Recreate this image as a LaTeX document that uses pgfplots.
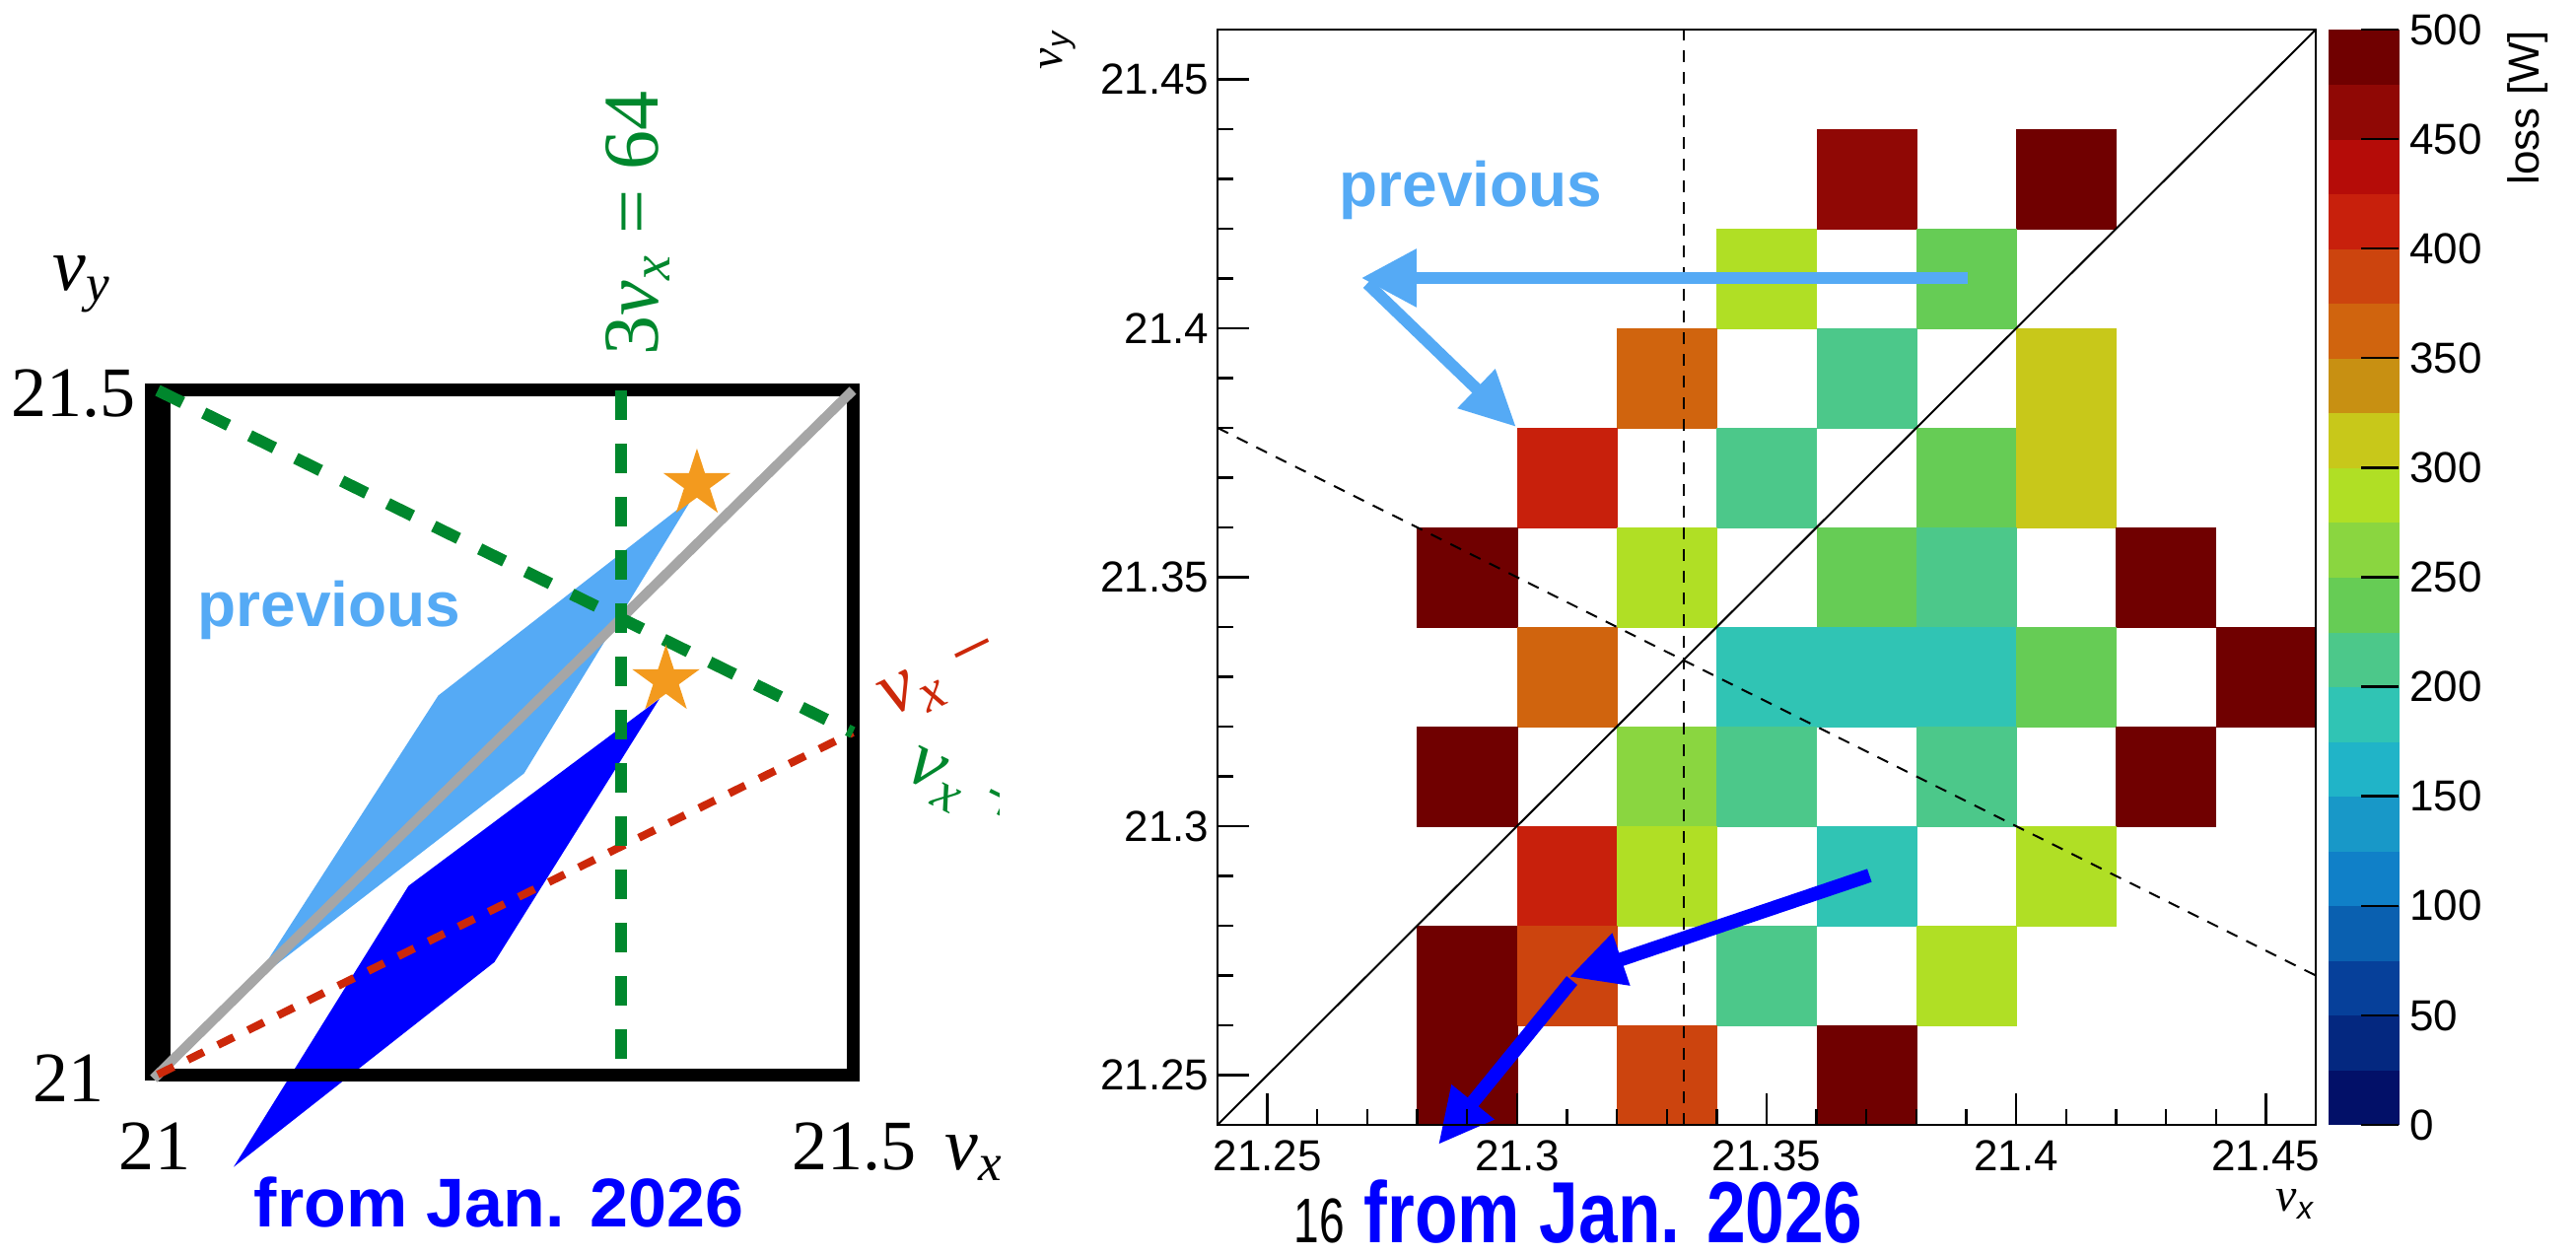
\documentclass[border=0pt]{standalone}
\usepackage{fontspec}
\setmainfont{Liberation Sans}
\newfontfamily\lser{Liberation Serif}
\newfontfamily\condsans{Liberation Sans}[FakeStretch=0.81]
\newfontfamily\thinsans{Liberation Sans}[FakeStretch=0.72]
\usepackage{pgfplots}
\pgfplotsset{compat=1.18}
\usetikzlibrary{arrows.meta}

\definecolor{lb}{RGB}{85,170,245}
\definecolor{dblue}{RGB}{0,0,255}
\definecolor{gc}{RGB}{0,135,45}
\definecolor{rc}{RGB}{204,40,10}
\definecolor{gr}{RGB}{166,166,166}
\definecolor{starc}{RGB}{243,154,30}

\pgfdeclareplotmark{fstar}{%
 \pgfpathmoveto{\pgfpointpolar{90}{\pgfplotmarksize}}%
 \pgfpathlineto{\pgfpointpolar{126}{0.382*\pgfplotmarksize}}%
 \pgfpathlineto{\pgfpointpolar{162}{\pgfplotmarksize}}%
 \pgfpathlineto{\pgfpointpolar{198}{0.382*\pgfplotmarksize}}%
 \pgfpathlineto{\pgfpointpolar{234}{\pgfplotmarksize}}%
 \pgfpathlineto{\pgfpointpolar{270}{0.382*\pgfplotmarksize}}%
 \pgfpathlineto{\pgfpointpolar{306}{\pgfplotmarksize}}%
 \pgfpathlineto{\pgfpointpolar{342}{0.382*\pgfplotmarksize}}%
 \pgfpathlineto{\pgfpointpolar{18}{\pgfplotmarksize}}%
 \pgfpathlineto{\pgfpointpolar{54}{0.382*\pgfplotmarksize}}%
 \pgfpathclose\pgfusepathqfill}

\newcommand\nuX{{\itshape ν}\textsubscript{\itshape x}}
\newcommand\nuY{{\itshape ν}\textsubscript{\itshape y}}

\begin{document}
\begin{tikzpicture}
\path[use as bounding box] (0,0) rectangle (653.25pt,318.5pt);

% ---------------- left schematic panel ----------------
\begin{axis}[at={(0pt,0pt)}, anchor=south west, scale only axis,
  width=253.25pt, height=318.5pt, hide axis,
  xmin=20.88652, xmax=21.60496, ymin=20.86744, ymax=21.78530, clip=true]
 \addplot[fill=lb, draw=none] coordinates {(21.3846,21.4214) (21.2018,21.2770) (21.0689,21.0675) (21.2635,21.2201)} --cycle;
 \addplot[fill=dblue, draw=none] coordinates {(21.3609,21.2746) (21.1804,21.1379) (21.0546,20.9325) (21.2422,21.0822)} --cycle;
 \addplot[black, line width=3.25pt, line join=miter] coordinates {(21,21.5) (21.5,21.5) (21.5,21) (21,21)};
 \addplot[black, line width=6.5pt] coordinates {(21,20.99532) (21,21.50468)};
 \addplot[gr, line width=2.5pt] coordinates {(20.997,20.997) (21.5,21.5)};
 \addplot[rc, line width=2pt, dash pattern=on 4.5pt off 4pt] coordinates {(21,21) (21.5,21.25)};
 \addplot[gc, line width=3pt, dash pattern=on 7pt off 6pt] coordinates {(21,21.5) (21.5,21.25)};
 \addplot[gc, line width=3pt, dash pattern=on 7.5pt off 6pt] coordinates {(21.33333,21.5) (21.33333,21)};
 \addplot[only marks, mark=fstar, mark size=9pt, color=starc] coordinates {(21.3879,21.4316) (21.3656,21.2882)};
 % labels of the two resonance lines, cut off by the panel edge as in the original
 \node[rotate=26, anchor=base west, inner sep=0pt, text=rc, font=\lser\fontsize{20}{20}\selectfont] at (axis cs:21.52695,21.26081) {\nuX\ −};
 \node[rotate=-26, anchor=base west, inner sep=0pt, text=gc, font=\lser\fontsize{20}{20}\selectfont] at (axis cs:21.53546,21.21758) {\nuX\ +};
\end{axis}

% ---------------- right loss map ----------------
\begin{axis}[at={(308.75pt,33.25pt)}, anchor=south west, scale only axis,
  width=278.5pt, height=277.75pt,
  xmin=21.24, xmax=21.46, ymin=21.24, ymax=21.46,
  xtick={21.25,21.3,21.35,21.4,21.45}, ytick={21.25,21.3,21.35,21.4,21.45},
  minor tick num=4, tick align=inside, tick pos=left,
  major tick length=8pt, minor tick length=4pt,
  axis line style={line width=0.6pt},
  every tick/.style={black, line width=0.6pt},
  ticklabel style={font=\fontsize{11}{11}\selectfont},
  /pgf/number format/assume math mode=true,
  xticklabel style={inner sep=0pt, yshift=-3.75pt, /pgf/number format/fixed, /pgf/number format/precision=2},
  yticklabel style={inner sep=0pt, xshift=-2pt, /pgf/number format/fixed, /pgf/number format/precision=2},
  colormap={loss}{rgb255=(2,16,104) rgb255=(4,40,128) rgb255=(6,64,154) rgb255=(10,96,176)
    rgb255=(16,128,200) rgb255=(24,152,200) rgb255=(32,180,200) rgb255=(48,196,180)
    rgb255=(76,200,138) rgb255=(102,204,85) rgb255=(138,214,64) rgb255=(176,223,37)
    rgb255=(200,200,26) rgb255=(200,144,18) rgb255=(208,100,14) rgb255=(204,68,14)
    rgb255=(200,32,12) rgb255=(181,12,8) rgb255=(144,8,5) rgb255=(112,0,0)},
  colormap access=piecewise constant,
  point meta min=0, point meta max=500,
  colorbar, colorbar shift/.style={xshift=2pt},
  colorbar style={width=18pt, ytick={0,50,...,500}, tick align=inside,
    ytick pos=right, yticklabel pos=right, major tick length=9.5pt,
    axis line style={draw=none}, every tick/.style={black, line width=0.6pt},
    /pgf/number format/assume math mode=true,
    yticklabel style={font=\fontsize{11}{11}\selectfont, anchor=west, inner sep=0pt, xshift=2.5pt}},
  clip=false, clip marker paths=true, axis on top]
 \addplot[scatter, only marks, mark=square*, mark size=12.64pt,
   scatter/use mapped color={draw=mapped color, fill=mapped color},
   mark options={line width=0.1pt}, point meta=explicit]
   table[meta=v] {
x y v
21.37 21.43 460
21.41 21.43 490
21.35 21.41 290
21.39 21.41 240
21.33 21.39 360
21.37 21.39 210
21.41 21.39 310
21.31 21.37 410
21.35 21.37 210
21.39 21.37 240
21.41 21.37 310
21.29 21.35 490
21.33 21.35 290
21.37 21.35 240
21.39 21.35 210
21.43 21.35 490
21.31 21.33 360
21.35 21.33 190
21.37 21.33 190
21.39 21.33 190
21.41 21.33 240
21.45 21.33 490
21.29 21.31 490
21.33 21.31 260
21.35 21.31 210
21.39 21.31 210
21.43 21.31 490
21.31 21.29 410
21.33 21.29 290
21.37 21.29 190
21.41 21.29 290
21.29 21.27 490
21.31 21.27 390
21.35 21.27 210
21.39 21.27 290
21.29 21.25 490
21.33 21.25 390
21.37 21.25 490
};
 \addplot[black, line width=0.5pt] coordinates {(21.24,21.24) (21.46,21.46)};
 \addplot[black, line width=0.5pt, dash pattern=on 3pt off 2.5pt] coordinates {(21.33333,21.24) (21.33333,21.46)};
 \addplot[black, line width=0.5pt, dash pattern=on 3pt off 2.5pt] coordinates {(21.24,21.38) (21.46,21.27)};
 \addplot[lb, line width=3pt, -{Triangle[length=14pt,width=14pt]}] coordinates {(21.3902,21.4101) (21.2688,21.4101)};
 \addplot[lb, line width=3pt, -{Triangle[length=14pt,width=13pt]}] coordinates {(21.2700,21.4090) (21.2998,21.3802)};
 \addplot[dblue, line width=3.5pt, -{Triangle[length=14pt,width=13pt]}] coordinates {(21.3706,21.2901) (21.3104,21.2697)};
 \addplot[dblue, line width=3.5pt, -{Triangle[length=14pt,width=13pt]}] coordinates {(21.3110,21.2690) (21.2842,21.2360)};
\end{axis}

% ---------------- text (positions in reference pixels) ----------------
\begin{scope}[x=0.25pt, y=-0.25pt, yshift=318.5pt, every node/.style={inner sep=0pt}]
 \node[anchor=base east, font=\lser\fontsize{18}{18}\selectfont] at (138,423) {21.5};
 \node[anchor=base east, font=\lser\fontsize{18}{18}\selectfont] at (106,1118) {21};
 \node[anchor=base, font=\lser\fontsize{18}{18}\selectfont] at (157,1187) {21};
 \node[anchor=base west, font=\lser\fontsize{18}{18}\selectfont] at (803,1187) {21.5};
 \node[anchor=base west, font=\lser\fontsize{19}{19}\selectfont] at (958,1187) {\nuX};
 \node[anchor=base west, font=\lser\fontsize{19}{19}\selectfont] at (53,295) {\nuY};
 \node[rotate=90, anchor=base west, text=gc, font=\lser\fontsize{20}{20}\selectfont] at (667,361) {3\nuX\ = 64};
 \node[anchor=base west, text=lb, font=\bfseries\fontsize{16}{16}\selectfont] at (200,636) {previous};
 \node[anchor=base west, text=dblue, font=\bfseries\fontsize{17.5}{17.5}\selectfont] at (257,1245) {from Jan. 2026};
 \node[anchor=base west, text=lb, font=\bfseries\fontsize{16}{16}\selectfont] at (1358,210) {previous};
 \node[anchor=base west, text=dblue, font=\condsans\bfseries\fontsize{22}{22}\selectfont] at (1383,1261) {from Jan. 2026};
 \node[anchor=base west, font=\thinsans\fontsize{16}{16}\selectfont] at (1312,1261) {16};
 \node[rotate=90, anchor=south east, font=\fontsize{12}{12}\selectfont] at (1092,30) {{\lser\itshape ν}\textsubscript{\itshape y}};
 \node[anchor=north east, font=\fontsize{12}{12}\selectfont] at (2349,1206) {{\lser\itshape ν}\textsubscript{\itshape x}};
 \node[rotate=90, anchor=east, font=\fontsize{11}{11}\selectfont] at (2564,30) {loss [W]};
\end{scope}
\end{tikzpicture}
\end{document}
